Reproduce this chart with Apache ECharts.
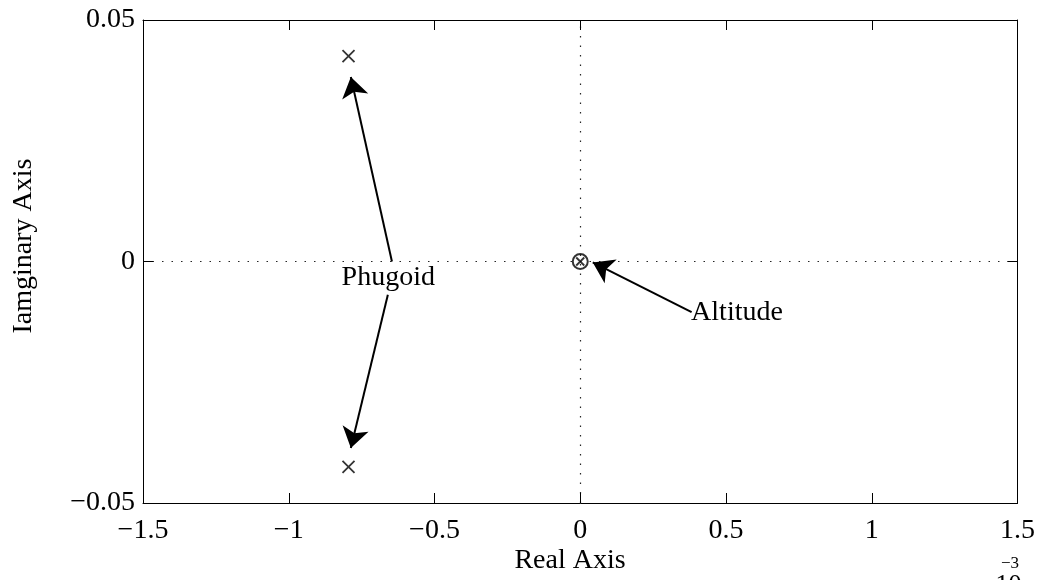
<!DOCTYPE html>
<html>
<head>
<meta charset="utf-8">
<script src="https://cdn.jsdelivr.net/npm/echarts@6/dist/echarts.min.js"></script>
<style>
  html, body { margin: 0; padding: 0; background: #fff; }
  #chart { width: 1038px; height: 580px; }
</style>
</head>
<body>
<div id="chart"></div>
<script>
// Root locus of the longitudinal slow modes (real axis scaled by 1e-3)
const realRange = [-1.5, 1.5];
const realStep = 0.5;
const imagRange = [-0.05, 0.05];
const imagStep = 0.05;

// Phugoid pole pair and the altitude pole/zero at the origin
const poleRe = [-0.795, -0.795, 0];
const poleIm = [0.0425, -0.0425, 0];
const zeroRe = [0];
const zeroIm = [0];

// Annotation labels [re, im] and arrows [from, to]
const labelNames = ['Phugoid', 'Altitude'];
const labelRe = [-0.657, 0.382];
const labelIm = [-0.0034, -0.0106];
const arrowFrom = [[-0.646, 0.0], [-0.660, -0.0069], [0.382, -0.0105]];
const arrowTo = [[-0.787, 0.0382], [-0.787, -0.0386], [0.043, -0.0002]];

const FONT = "'Liberation Serif', 'Times New Roman', serif";
const fmt = v => {
  const r = Math.round(v * 1e6) / 1e6;
  return (r < 0 ? '\u2212' : '') + Math.abs(r);
};
const crossPath = 'path://M0,0L10,10M10,0L0,10';

const axisCommon = {
  axisLine: { show: true, onZero: false, lineStyle: { color: '#000', width: 1 } },
  axisTick: { show: true, inside: true, length: 10, lineStyle: { color: '#000', width: 1 } },
  splitLine: { show: false }
};

const chart = echarts.init(document.getElementById('chart'), null, { renderer: 'canvas' });
chart.setOption({
  animation: false,
  backgroundColor: '#fff',
  grid: { left: 143, right: 20, top: 20, bottom: 77 },
  xAxis: [
    Object.assign({
      type: 'value', min: realRange[0], max: realRange[1], interval: realStep, position: 'bottom',
      axisLabel: { color: '#000', fontFamily: FONT, fontSize: 28, margin: 14, formatter: fmt }
    }, axisCommon),
    Object.assign({
      type: 'value', min: realRange[0], max: realRange[1], interval: realStep, position: 'top',
      axisLabel: { show: false }
    }, axisCommon)
  ],
  yAxis: [
    Object.assign({
      type: 'value', min: imagRange[0], max: imagRange[1], interval: imagStep, position: 'left',
      axisLabel: { color: '#000', fontFamily: FONT, fontSize: 28, margin: 8, formatter: fmt }
    }, axisCommon),
    Object.assign({
      type: 'value', min: imagRange[0], max: imagRange[1], interval: imagStep, position: 'right',
      axisLabel: { show: false }
    }, axisCommon)
  ],
  graphic: [
    { type: 'text', x: 570, y: 561,
      style: { text: 'Real Axis', font: "28px " + FONT, fill: '#000', align: 'center', verticalAlign: 'middle' } },
    { type: 'text', x: 24, y: 246, rotation: Math.PI / 2,
      style: { text: 'Iamginary Axis', font: "28px " + FONT, fill: '#000', align: 'center', verticalAlign: 'middle' } },
    { type: 'text', x: 976, y: 572,
      style: { text: 'x 10', font: "26px " + FONT, fill: '#000', align: 'left', verticalAlign: 'top' } },
    { type: 'text', x: 1001, y: 555,
      style: { text: '\u22123', font: "17px " + FONT, fill: '#000', align: 'left', verticalAlign: 'top' } }
  ],
  series: [
    {
      // dotted reference lines through the origin
      type: 'scatter', name: 'zero lines', data: [], silent: true,
      markLine: {
        silent: true, symbol: ['none', 'none'], label: { show: false },
        lineStyle: { color: '#000', type: [1.5, 8], width: 1.2, opacity: 0.85 },
        data: [{ xAxis: 0 }, { yAxis: 0 }]
      }
    },
    {
      type: 'scatter', name: 'Zeros', silent: true,
      symbol: 'emptyCircle', symbolSize: 15,
      itemStyle: { color: '#000', borderWidth: 1.6 },
      data: zeroRe.map((v, i) => [v, zeroIm[i]])
    },
    {
      type: 'scatter', name: 'Poles', silent: true,
      symbol: crossPath,
      itemStyle: { color: 'rgba(0,0,0,0)', borderColor: '#000', borderWidth: 1.8 },
      data: poleRe.map((v, i) => [v, poleIm[i], i === 2 ? 8 : 12]),
      symbolSize: d => d[2]
    },
    {
      type: 'scatter', name: 'annotations', silent: true,
      symbolSize: 1,
      itemStyle: { color: 'rgba(0,0,0,0)' },
      data: labelNames.map((n, i) => ({ name: n, value: [labelRe[i], labelIm[i]] })),
      label: {
        show: true, formatter: p => p.name, color: '#000', opacity: 1,
        fontFamily: FONT, fontSize: 28, position: [0, 0], verticalAlign: 'middle'
      },
      labelLayout: p => ({ align: p.dataIndex === 1 ? 'left' : 'center' }),
      markLine: {
        silent: true, symbol: ['none', 'arrow'], symbolSize: 20, label: { show: false },
        lineStyle: { color: '#000', type: 'solid', width: 2 },
        data: arrowFrom.map((a, i) => [{ coord: a }, { coord: arrowTo[i] }])
      }
    }
  ]
});
</script>
</body>
</html>
